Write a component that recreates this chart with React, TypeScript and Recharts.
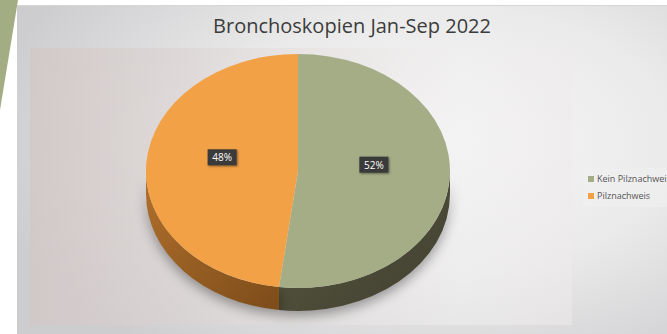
import { PieChart, Pie, Sector, Legend, Cell } from "recharts";

const title = "Bronchoskopien Jan-Sep 2022";
const categories = ["Kein Pilznachweis", "Pilznachweis"];
const shares = [52, 48];
const topColors = ["#a5ad87", "#f2a147"];
const sideColors = [
  ["#5b5a42", "#403f30"],
  ["#b0702c", "#7d4c1a"],
];

const data = categories.map((name, i) => ({ name, value: shares[i] }));

const TILT = 0.77; // vertical squash of the pie ellipse
const DEPTH = 23; // thickness of the 3d slab
const RAD = Math.PI / 180;
const FONT = "'Open Sans', sans-serif";

function TopFace(p: any) {
  const { cx, cy, outerRadius, startAngle, endAngle, fill } = p;
  return (
    <g transform={`translate(0 ${cy}) scale(1 ${TILT}) translate(0 ${-cy})`}>
      <Sector
        cx={cx}
        cy={cy}
        innerRadius={0}
        outerRadius={outerRadius}
        startAngle={startAngle}
        endAngle={endAngle}
        fill={fill}
        stroke="none"
      />
    </g>
  );
}

function SideFace(p: any) {
  const { cx, cy, outerRadius: r, startAngle, endAngle, index } = p;
  // only the front half (angles -180..0) of the slab is visible
  const lo = Math.max(Math.min(startAngle, endAngle), -180);
  const hi = Math.min(Math.max(startAngle, endAngle), 0);
  if (hi <= lo) return <g />;
  const pt = (a: number, dy: number) => [
    cx + r * Math.cos(-a * RAD),
    cy + dy + TILT * r * Math.sin(-a * RAD),
  ];
  const [x1, y1] = pt(lo, 0);
  const [x2, y2] = pt(hi, 0);
  const [x3, y3] = pt(hi, DEPTH);
  const [x4, y4] = pt(lo, DEPTH);
  const ry = TILT * r;
  const d = `M${x1},${y1} A${r},${ry} 0 0 0 ${x2},${y2} L${x3},${y3} A${r},${ry} 0 0 1 ${x4},${y4} Z`;
  const id = `side-${index}`;
  const [c1, c2] = sideColors[index % sideColors.length];
  return (
    <g style={{ filter: "drop-shadow(0px 5px 6px rgba(0,0,0,0.35))" }}>
      <defs>
        <linearGradient id={id} x1="0" y1="0" x2="1" y2="1">
          <stop offset="0%" stopColor={c1} />
          <stop offset="100%" stopColor={c2} />
        </linearGradient>
      </defs>
      <path d={d} fill={`url(#${id})`} />
    </g>
  );
}

function renderLabel(p: any) {
  const r = p.outerRadius * 0.5;
  const x = p.cx + r * Math.cos(-p.midAngle * RAD);
  const y = p.cy + TILT * r * Math.sin(-p.midAngle * RAD) - 10;
  const text = `${Math.round(p.percent * 100)}%`;
  return (
    <g>
      <rect
        x={x - 14.5}
        y={y - 8}
        width={29}
        height={16}
        fill="#3a3a3a"
        style={{ filter: "drop-shadow(1px 1px 1px rgba(0,0,0,0.45))" }}
      />
      <text
        x={x}
        y={y}
        textAnchor="middle"
        dominantBaseline="central"
        fill="#ffffff"
        fontSize={10}
        fontFamily={FONT}
      >
        {text}
      </text>
    </g>
  );
}

function LegendBox() {
  return (
    <div
      style={{
        background: "rgba(240,240,240,0.6)",
        padding: "2px 0 3px 5px",
        fontFamily: FONT,
        fontSize: 9,
        color: "#555",
        whiteSpace: "nowrap",
      }}
    >
      {categories.map((c, i) => (
        <div key={c} style={{ display: "flex", alignItems: "center", height: 17 }}>
          <span
            style={{
              display: "inline-block",
              width: 6,
              height: 6,
              background: topColors[i],
              marginRight: 3,
            }}
          />
          {c}
        </div>
      ))}
    </div>
  );
}

export default function App() {
  return (
    <div
      style={{
        position: "fixed",
        left: 0,
        top: 0,
        width: 667,
        height: 334,
        overflow: "hidden",
        background: "#ffffff",
      }}
    >
      {/* slide decoration at the left edge */}
      <div
        style={{
          position: "absolute",
          left: 0,
          top: 0,
          width: 18,
          height: 110,
          background: "#a2ad84",
          clipPath: "polygon(0 0, 100% 0, 0 100%)",
        }}
      />
      <div
        style={{
          position: "absolute",
          left: 17,
          top: 5,
          width: 660,
          height: 335,
          borderTop: "1px solid #d6d6d6",
          background:
            "radial-gradient(ellipse 70% 80% at 65% 40%, #f7f7f7 0%, #eaeaea 50%, #cdcdd0 100%)",
        }}
      />
      <div
        style={{
          position: "absolute",
          left: 30,
          top: 48,
          width: 542,
          height: 277,
          background:
            "linear-gradient(90deg, rgba(210,200,198,0.8) 0%, rgba(225,218,216,0.55) 40%, rgba(242,240,240,0.5) 80%, rgba(238,234,234,0.5) 100%)",
        }}
      />
      <div
        style={{
          position: "absolute",
          left: 17,
          top: 12,
          width: 670,
          textAlign: "center",
          fontFamily: FONT,
          fontSize: 20,
          color: "#3c3c3c",
        }}
      >
        {title}
      </div>
      <div style={{ position: "absolute", left: 0, top: 0 }}>
        <PieChart width={667} height={334}>
          <Pie
            data={data}
            dataKey="value"
            nameKey="name"
            cx={293}
            cy={166}
            outerRadius={152}
            startAngle={90}
            endAngle={-270}
            stroke="none"
            legendType="none"
            isAnimationActive={false}
            shape={SideFace}
            activeShape={SideFace}
            inactiveShape={SideFace}
          />
          <Pie
            data={data}
            dataKey="value"
            nameKey="name"
            cx={293}
            cy={166}
            outerRadius={152}
            startAngle={90}
            endAngle={-270}
            stroke="none"
            isAnimationActive={false}
            shape={TopFace}
            activeShape={TopFace}
            inactiveShape={TopFace}
            label={renderLabel}
            labelLine={false}
          >
            {data.map((d, i) => (
              <Cell key={d.name} fill={topColors[i]} />
            ))}
          </Pie>
          <Legend
            layout="vertical"
            content={() => <LegendBox />}
            wrapperStyle={{ left: 583, top: 168, width: 100 }}
          />
        </PieChart>
      </div>
    </div>
  );
}
